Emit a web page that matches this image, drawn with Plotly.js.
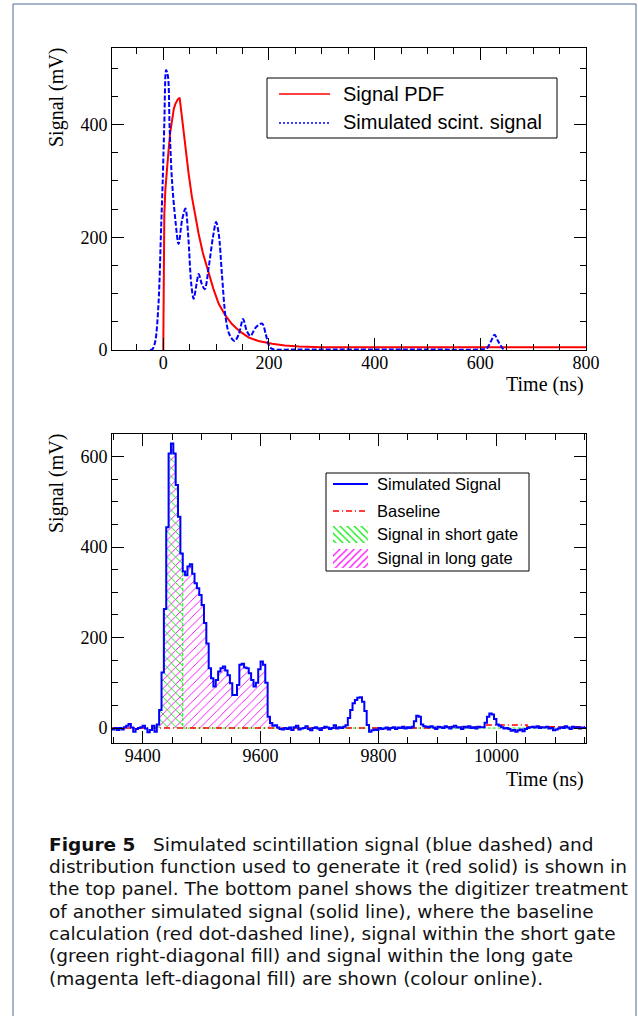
<!DOCTYPE html>
<html><head><meta charset="utf-8">
<script src="https://cdn.plot.ly/plotly-3.0.1.min.js"></script>
<style>html,body{margin:0;padding:0;background:#fff}</style>
</head><body><div id="chart" style="width:638px;height:1016px"></div>
<script>
// ---------- Top panel data ----------
const pdfTime   = [0, 0.3, 1, 2, 4, 7, 10, 13, 16.5, 20, 23, 27, 31, 36, 42, 48, 54, 60, 67, 75, 86, 95, 105, 117, 130, 145, 162, 180, 206, 230, 257, 300, 400, 500, 600, 700, 800];
const pdfSignal = [0, 90, 180, 240, 285, 325, 354, 385, 410, 428, 437, 444, 448, 405, 360, 313, 273, 240, 206, 172, 135, 108, 82, 62, 46, 33, 22, 16, 11, 8, 6, 5, 5, 5, 5, 5, 5];
const simTime   = [-25, -20, -15, -9, -4, -1, 2, 5.5, 9, 12, 16.5, 23, 29, 35.5, 42, 47, 53, 57.5, 63, 67, 73, 78.5, 86, 94, 100, 105, 111, 118, 125, 135, 143, 151, 158, 165, 175, 187, 194, 200, 206, 250, 300, 400, 500, 600, 612, 620, 627, 634, 642, 645];
const simSignal = [0, 2, 16, 82, 218, 301, 402, 497, 485, 396, 301, 230, 188, 230, 251, 206, 117, 91, 117, 135, 117, 108, 147, 200, 227, 206, 135, 58, 28, 16, 28, 55, 34, 25, 40, 47, 28, 8, 2, 1, 1, 1, 1, 1, 3, 15, 27, 15, 3, 1];

// ---------- Bottom panel data (4 ns bins starting at 9348 ns) ----------
const binStart = 9348;
const binWidth = 4;
const signal = [
  -3, 0, -4, 0, -3, 2, 5, 9, 1, -8, -2, 0, 2, 5, -1, -9, -4, 5, -8,
  8,
  40, 123, 263, 444, 607, 629, 607, 537, 467, 386,
  346, 338, 357, 362, 341, 320, 309, 294, 272, 232,
  187, 132, 110, 92, 106, 125, 132, 136, 127, 117,
  99, 73, 73, 95, 140, 142, 134, 132, 121, 106,
  92, 100, 130, 147, 140, 100, 25, 11,
  5, 6, 1, -2, -3, 0, -2, 1, -4, 2, 5, -3, -1, 0, 4, -2, -5, 0, 2, -1, -4, 0, 3, 1, -2, 0, 6, -1, 2, 0, 3, 6,
  22, 40, 55, 62, 67, 68, 58, 38, 7, -8,
  -5, -3, -4, 0, -2, -1, 1, -3, 0, 2, -2, 1, 0, 3, -1, 2, 0,
  3, 15, 27, 25, 8, 4,
  3, 2, 4, 1, -2, 3, 2, 0, 4, 2, -1, 3, 5, 1, 2, -2, 3, 1, 4, 0, 2, -1, 3, 2,
  2, 12, 25, 32, 30, 20, 8, 5,
  2, -1, 0, -2, -6, -4, -8, -5, -3, -7, -2, 0, 2, 3, 1, 4, 0, 2, 1, 3, -1, 0, -5, -3, -1, 2, 0, 4, 1, -2, 3, 0, 2, -1, 1, 0
];
const baselineTime  = [9348, 9900, 9980, 10052, 10152];
const baselineValue = [0, 3, 7, 3, 3];
const shortGate = [9424, 9468];
const longGate  = [9424, 9620];

// ---------- Text ----------
const legendTop = ['Signal PDF', 'Simulated scint. signal'];
const legendBottom = ['Simulated Signal', 'Baseline', 'Signal in short gate', 'Signal in long gate'];
const yTitle = 'Signal (mV)';
const xTitle = 'Time (ns)';
const caption = [
  '<b>Figure 5</b>\u00a0\u00a0 Simulated scintillation signal (blue dashed) and',
  'distribution function used to generate it (red solid) is shown in',
  'the top panel. The bottom panel shows the digitizer treatment',
  'of another simulated signal (solid line), where the baseline',
  'calculation (red dot-dashed line), signal within the short gate',
  '(green right-diagonal fill) and signal within the long gate',
  '(magenta left-diagonal fill) are shown (colour online).'
];

// ---------- helpers ----------
const W = 638, H = 1016;
const px = v => v / W;
const py = v => 1 - v / H;

const edges = [];
for (let k = 0; k <= signal.length; k++) edges.push(binStart + k * binWidth);
const stepY = signal.concat([signal[signal.length - 1]]);

function gateTrace(g, extendToEnd) {
  const xs = [g[0]], ys = [0];
  for (let i = 0; i < edges.length; i++) {
    const e = edges[i];
    if (e < g[0]) continue;
    if (i < signal.length && e + binWidth <= g[1]) { xs.push(e); ys.push(signal[i]); }
    else if (extendToEnd || e <= g[1]) { xs.push(e); ys.push(0); }
  }
  return {x: xs, y: ys};
}
const longFill = gateTrace(longGate, false);
const shortFill = gateTrace(shortGate, true);

const traces = [
  {x: pdfTime, y: pdfSignal, xaxis: 'x', yaxis: 'y', mode: 'lines', line: {color: '#ff0000', width: 2}, name: legendTop[0]},
  {x: simTime, y: simSignal, xaxis: 'x', yaxis: 'y', mode: 'lines', line: {color: '#0000ff', width: 2, dash: '5px,2px', shape: 'spline', smoothing: 0.9}, name: legendTop[1]},
  {x: longFill.x, y: longFill.y, xaxis: 'x2', yaxis: 'y2', mode: 'lines', line: {width: 0, shape: 'hv'}, fill: 'tozeroy', fillcolor: 'rgba(0,0,0,0)',
   fillpattern: {shape: '/', fgcolor: '#ff00ff', bgcolor: 'rgba(0,0,0,0)', size: 6, solidity: 0.15}, name: legendBottom[3]},
  {x: shortFill.x, y: shortFill.y, xaxis: 'x2', yaxis: 'y2', mode: 'lines', line: {width: 1, color: '#00ee00', dash: '3px,2px', shape: 'hv'}, fill: 'tozeroy', fillcolor: 'rgba(0,0,0,0)',
   fillpattern: {shape: '\\', fgcolor: '#00ee00', bgcolor: 'rgba(0,0,0,0)', size: 6, solidity: 0.15}, name: legendBottom[2]},
  {x: baselineTime, y: baselineValue, xaxis: 'x2', yaxis: 'y2', mode: 'lines', line: {color: '#ff0000', width: 1.5, dash: '6px,3px,1px,3px', shape: 'hv'}, name: legendBottom[1]},
  {x: edges, y: stepY, xaxis: 'x2', yaxis: 'y2', mode: 'lines', line: {color: '#0000ff', width: 2, shape: 'hv'}, name: legendBottom[0]},
  // legend swatches (glyphs)
  {x: [0, 1, 1, 0, 0], y: [0, 0, 1, 1, 0], xaxis: 'x3', yaxis: 'y3', mode: 'lines', line: {width: 0}, fill: 'toself', fillcolor: 'rgba(0,0,0,0)',
   fillpattern: {shape: '\\', fgcolor: '#00ee00', bgcolor: 'rgba(0,0,0,0)', size: 5, solidity: 0.25}, hoverinfo: 'skip'},
  {x: [0, 1, 1, 0, 0], y: [0, 0, 1, 1, 0], xaxis: 'x4', yaxis: 'y4', mode: 'lines', line: {width: 0}, fill: 'toself', fillcolor: 'rgba(0,0,0,0)',
   fillpattern: {shape: '/', fgcolor: '#ff00ff', bgcolor: 'rgba(0,0,0,0)', size: 5, solidity: 0.25}, hoverinfo: 'skip'}
];

const tickFont = {family: 'Liberation Serif, Times New Roman, serif', size: 18, color: '#000'};
function ax(extra) {
  return Object.assign({
    ticks: 'inside', ticklen: 12, tickwidth: 1, tickcolor: '#000',
    showline: true, linecolor: '#000', linewidth: 1, mirror: 'allticks',
    showgrid: false, zeroline: false, tickfont: tickFont, fixedrange: true,
    minor: {ticks: 'inside', ticklen: 6, tickwidth: 1, tickcolor: '#000', showgrid: false, dtick: 50}
  }, extra);
}
const hidden = d => ({domain: d, range: [0, 1], visible: false, fixedrange: true});

const serif = 'Liberation Serif, Times New Roman, serif';
const sans = 'Liberation Sans, Arial, sans-serif';
const annotations = [
  {text: yTitle, x: px(56), y: py(98), textangle: -90, font: {family: serif, size: 20, color: '#000'}},
  {text: yTitle, x: px(56), y: py(484), textangle: -90, font: {family: serif, size: 20, color: '#000'}},
  {text: xTitle, x: px(586), y: py(384), xanchor: 'right', font: {family: serif, size: 20, color: '#000'}},
  {text: xTitle, x: px(586), y: py(779), xanchor: 'right', font: {family: serif, size: 20, color: '#000'}},
  {text: legendTop[0], x: px(341), y: py(94), xanchor: 'left', font: {family: sans, size: 20, color: '#000'}},
  {text: legendTop[1], x: px(341), y: py(122), xanchor: 'left', font: {family: sans, size: 20, color: '#000'}},
  {text: legendBottom[0], x: px(375), y: py(484), xanchor: 'left', font: {family: sans, size: 16.5, color: '#000'}},
  {text: legendBottom[1], x: px(375), y: py(511), xanchor: 'left', font: {family: sans, size: 16.5, color: '#000'}},
  {text: legendBottom[2], x: px(375), y: py(534), xanchor: 'left', font: {family: sans, size: 16.5, color: '#000'}},
  {text: legendBottom[3], x: px(375), y: py(558), xanchor: 'left', font: {family: sans, size: 16.5, color: '#000'}}
].map(a => Object.assign({xref: 'paper', yref: 'paper', showarrow: false, yanchor: 'middle', xanchor: a.xanchor || 'center'}, a));

// caption: one annotation per line so the line pitch (~22.3 px) matches the reference
const capFamily = 'DejaVu Sans';
const capSize = 18.5;
const capY = [844, 866.3, 888.7, 911, 933.3, 955.7, 978];
caption.forEach((t, i) => annotations.push({
  text: t, xref: 'paper', yref: 'paper', x: px(48), y: py(capY[i]), xanchor: 'left', yanchor: 'middle', showarrow: false,
  height: 21, borderpad: 0, valign: 'middle',
  font: {family: capFamily + ', sans-serif', size: capSize, color: '#111'}
}));

const shapes = [
  {type: 'rect', xref: 'paper', yref: 'paper', x0: px(13), x1: px(636), y0: py(1030), y1: py(4), line: {color: '#4d6d94', width: 1}},
  {type: 'rect', xref: 'paper', yref: 'paper', x0: px(267), x1: px(557), y0: py(138), y1: py(78), line: {color: '#000', width: 1}, fillcolor: '#fff', layer: 'below'},
  {type: 'line', xref: 'paper', yref: 'paper', x0: px(279), x1: px(330), y0: py(94), y1: py(94), line: {color: '#ff0000', width: 1.5}},
  {type: 'line', xref: 'paper', yref: 'paper', x0: px(279), x1: px(330), y0: py(123), y1: py(123), line: {color: '#0000ff', width: 1.5, dash: '2px,2px'}},
  {type: 'rect', xref: 'paper', yref: 'paper', x0: px(326), x1: px(529), y0: py(571), y1: py(473), line: {color: '#000', width: 1}},
  {type: 'line', xref: 'paper', yref: 'paper', x0: px(333), x1: px(368), y0: py(484), y1: py(484), line: {color: '#0000ff', width: 2}},
  {type: 'line', xref: 'paper', yref: 'paper', x0: px(333), x1: px(368), y0: py(511), y1: py(511), line: {color: '#ff0000', width: 1.5, dash: '6px,3px,1px,3px'}}
];

const layout = {
  width: W, height: H, margin: {l: 0, r: 0, t: 0, b: 0}, autosize: false,
  paper_bgcolor: '#fff', plot_bgcolor: 'rgba(0,0,0,0)', showlegend: false,
  xaxis: ax({domain: [px(112), px(586)], range: [-97, 800], tick0: 0, dtick: 200, anchor: 'y', ticklabelstandoff: -4}),
  yaxis: ax({domain: [py(350), py(48)], range: [0, 536], tick0: 0, dtick: 200, anchor: 'x'}),
  xaxis2: ax({domain: [px(112), px(586)], range: [9348, 10152], tick0: 9400, dtick: 200, anchor: 'y2', tickformat: 'd', ticklabelstandoff: -4}),
  yaxis2: ax({domain: [py(743), py(434)], range: [-33, 650], tick0: 0, dtick: 200, anchor: 'x2'}),
  xaxis3: Object.assign(hidden([px(333), px(368)]), {anchor: 'y3'}),
  yaxis3: Object.assign(hidden([py(543), py(526)]), {anchor: 'x3'}),
  xaxis4: Object.assign(hidden([px(333), px(368)]), {anchor: 'y4'}),
  yaxis4: Object.assign(hidden([py(568), py(549)]), {anchor: 'x4'}),
  annotations: annotations, shapes: shapes
};

Plotly.newPlot('chart', traces, layout, {displayModeBar: false, staticPlot: true});
</script>
</body></html>
